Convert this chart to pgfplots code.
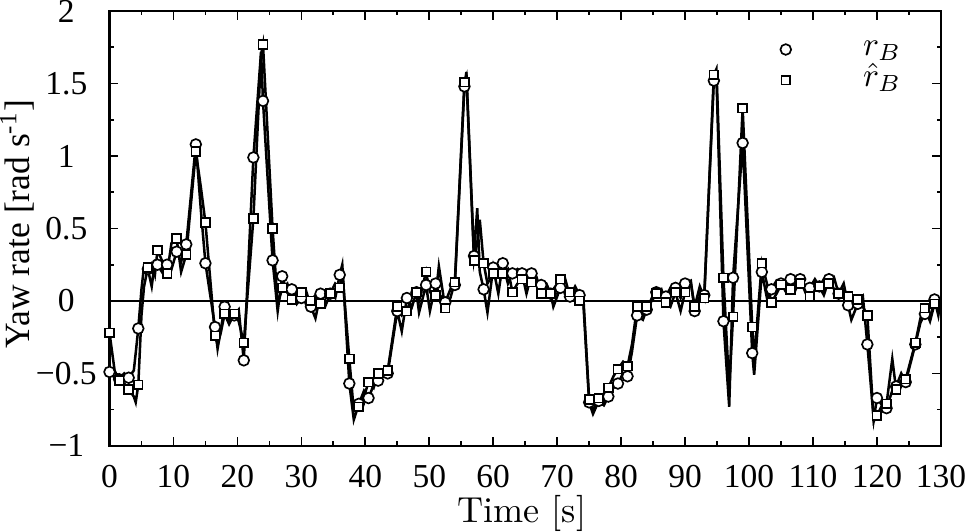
\documentclass[border=0pt]{standalone}
\usepackage{fontspec}
\setmainfont{Liberation Serif}
\newfontfamily\lmfont{Latin Modern Roman}
\usepackage{pgfplots}
\pgfplotsset{compat=1.18}
\usepackage{pgfplotstable}

% t: time, r: measured, rh: estimate, m: 1 where a mark is drawn
\pgfplotstableread{
t r rh m
0 -0.49 -0.22 1
0.8 -0.53 -0.48 0
1.5 -0.54 -0.55 1
2.3 -0.50 -0.57 0
3 -0.53 -0.61 1
3.8 -0.48 -0.66 0
4.1 -0.36 -0.70 0
4.5 -0.19 -0.58 1
5.0 0.08 -0.10 0
5.4 0.24 0.10 0
6 0.22 0.23 1
6.6 0.10 0.26 0
7.1 0.27 0.18 0
7.5 0.25 0.35 1
8.2 0.20 0.28 0
9 0.25 0.19 1
9.7 0.22 0.40 0
10.5 0.34 0.43 1
11.2 0.27 0.20 0
12 0.39 0.32 1
13.5 1.08 1.03 1
14.3 0.62 0.78 0
15 0.26 0.54 1
16.5 -0.18 -0.24 1
16.9 -0.33 -0.30 0
17.4 -0.20 -0.22 0
18 -0.04 -0.09 1
18.7 -0.13 -0.16 0
19.5 -0.10 -0.09 1
20.2 -0.06 -0.14 0
21 -0.41 -0.29 1
22.5 0.99 0.57 1
23.7 1.72 1.70 0
24 1.38 1.77 1
25.5 0.28 0.50 1
26.3 -0.07 -0.03 0
27 0.17 0.09 1
27.8 0.06 0.12 0
28.5 0.08 0.01 1
29.3 -0.02 0.06 0
30 0.02 0.06 1
30.8 0.06 -0.03 0
31.5 -0.04 0.00 1
32.2 -0.12 0.04 0
33 0.05 -0.02 1
33.8 -0.03 0.06 0
34.5 0.05 0.05 1
35.3 0.02 0.12 0
36 0.18 0.09 1
36.4 0.25 0.20 0
37.5 -0.57 -0.40 1
38.2 -0.82 -0.76 0
39 -0.71 -0.73 1
39.8 -0.62 -0.66 0
40.5 -0.67 -0.56 1
41.3 -0.58 -0.60 0
42 -0.55 -0.50 1
42.8 -0.48 -0.52 0
43.5 -0.50 -0.48 1
45 -0.07 -0.04 1
45.7 -0.21 -0.10 0
46.5 0.02 -0.07 1
47.3 -0.04 0.04 0
48 0.06 0.06 1
48.4 -0.08 0.00 0
49.5 0.11 0.20 1
50.1 -0.07 0.06 0
51 0.12 0.04 1
51.5 0.05 0.24 0
52.5 -0.01 -0.05 1
53.3 0.08 0.02 0
54 0.11 0.13 1
55.5 1.48 1.51 1
55.8 1.58 1.55 0
57 0.31 0.28 1
57.5 0.64 0.40 0
57.9 0.20 0.56 0
58.5 0.08 0.26 1
59.1 -0.08 0.12 0
60 0.23 0.19 1
60.8 0.05 0.22 0
61.5 0.26 0.19 1
62.3 0.12 0.22 0
63 0.19 0.06 1
63.8 0.22 0.12 0
64.5 0.19 0.15 1
65.2 0.05 0.17 0
66 0.19 0.13 1
66.8 0.14 0.16 0
67.5 0.11 0.05 1
68.3 0.12 0.10 0
69 0.05 0.05 1
69.4 -0.04 0.08 0
70.5 0.09 0.15 1
71.2 0.16 0.05 0
72 0.03 0.06 1
72.8 0.10 0.07 0
73.5 0.04 0.00 1
74.1 -0.02 0.02 0
75 -0.70 -0.68 1
75.6 -0.78 -0.76 0
76.5 -0.69 -0.67 1
77.3 -0.72 -0.64 0
78 -0.66 -0.60 1
78.8 -0.60 -0.52 0
79.5 -0.57 -0.47 1
80.3 -0.50 -0.42 0
81 -0.52 -0.45 1
81.7 -0.35 -0.30 0
82.5 -0.10 -0.04 1
83.4 -0.13 -0.10 0
84 -0.06 -0.04 1
84.8 0.02 0.00 0
85.5 0.06 0.05 1
86.3 0.03 0.08 0
87 0.03 -0.01 1
87.7 0.09 -0.04 0
88.5 0.09 0.06 1
89.3 0.02 -0.07 0
90 0.12 0.06 1
90.9 0.14 0.12 0
91.5 -0.07 -0.04 1
92.3 0.03 0.10 0
93 0.04 0.02 1
94.5 1.52 1.56 1
94.9 1.55 1.60 0
96 -0.14 0.16 1
96.9 -0.73 -0.60 0
97.5 0.16 -0.11 1
99 1.09 1.33 1
100.5 -0.36 -0.18 1
100.8 -0.51 -0.40 0
102 0.20 0.26 1
102.8 0.02 0.12 0
103.5 0.08 -0.01 1
104.3 0.14 0.05 0
105 0.12 0.11 1
105.8 0.06 0.14 0
106.5 0.15 0.08 1
107.3 0.08 0.14 0
108 0.15 0.12 1
108.8 0.06 0.10 0
109.5 0.09 0.03 1
110.3 0.15 0.12 0
111 0.10 0.10 1
111.7 0.04 0.15 0
112.5 0.15 0.12 1
113.3 0.08 0.16 0
114 0.05 0.05 1
114.8 0.12 0.02 0
115.5 -0.03 0.03 1
116 -0.13 0.04 0
117 -0.02 0.01 1
117.8 0.03 -0.04 0
118.5 -0.30 -0.10 1
119.5 -0.82 -0.83 0
120 -0.67 -0.79 1
120.8 -0.72 -0.72 0
121.5 -0.74 -0.71 1
122.4 -0.62 -0.40 0
123 -0.59 -0.61 1
123.8 -0.50 -0.55 0
124.5 -0.56 -0.54 1
126 -0.30 -0.29 1
126.8 -0.15 -0.12 0
127.5 -0.09 -0.05 1
128.3 -0.12 -0.14 0
129 0.01 -0.02 1
129.6 -0.10 -0.05 0
130 0.03 0.00 0
}\yawdata

\begin{document}
\begin{tikzpicture}
\begin{axis}[
  scale only axis, width=248.4pt, height=129.9pt,
  xmin=0, xmax=130, ymin=-1, ymax=2,
  xtick={0,10,...,130},
  xticklabels={0,10,20,30,40,50,60,70,80,90,100,110,120,130},
  minor x tick num=1,
  ytick={-1,-0.5,...,2},
  yticklabels={−1,−0.5,0,0.5,1,1.5,2},
  minor y tick num=1,
  tick align=inside,
  major tick length=2.6pt, minor tick length=1.3pt,
  axis line style={line width=0.6pt},
  every tick/.style={black, line width=0.5pt},
  xticklabel style={inner sep=0pt, anchor=north, yshift=-5.6pt},
  yticklabel style={inner sep=0pt, anchor=center, xshift=-12.9pt},
  xlabel={\fontsize{10.8}{13}\lmfont Time [s]},
  xlabel style={inner sep=0pt, at={(axis description cs:0.496,-0.156)}, anchor=center},
  ylabel={\fontsize{10.6}{13}\selectfont Yaw rate [rad s\textsuperscript{-1}]},
  ylabel style={inner sep=0pt, at={(axis description cs:-0.111,0.51)}, anchor=center},
  legend style={draw=none, fill=none, at={(axis description cs:0.807,0.947)},
    anchor=north west, inner sep=0pt, outer sep=0pt, column sep=21pt,
    nodes={inner sep=0.5pt, text height=6.0pt, text depth=2.2pt}},
  legend cell align=left,
]
\addplot[black, line width=0.5pt, forget plot] coordinates {(0,0) (130,0)};
\addplot[black, line width=0.75pt, forget plot] table[x=t, y=r] {\yawdata};
\addplot[black, line width=0.75pt, forget plot] table[x=t, y=rh] {\yawdata};
\addplot[only marks, mark=*, mark size=1.6pt,
  mark options={fill=white, draw=black, line width=0.5pt},
  restrict expr to domain={\thisrow{m}}{0.5:1.5}] table[x=t, y=r] {\yawdata};
\addlegendentry{$r_B$}
\addplot[only marks, mark=square*, mark size=1.3pt,
  mark options={fill=white, draw=black, line width=0.5pt},
  restrict expr to domain={\thisrow{m}}{0.5:1.5}] table[x=t, y=rh] {\yawdata};
\addlegendentry{$\hat{r}_B$}
\end{axis}
\end{tikzpicture}
\end{document}
